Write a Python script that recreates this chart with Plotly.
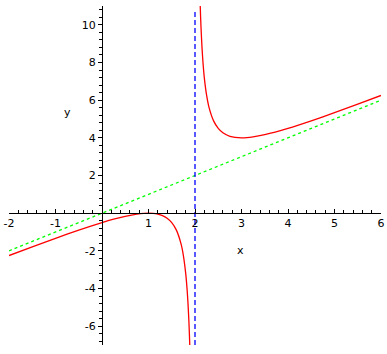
import plotly.graph_objects as go

# Left branch of red curve
left_x = [-2, -1.5, -1, -0.5, 0, 0.25, 0.5, 0.75, 0.9, 1, 1.1, 1.2, 1.3, 1.4, 1.5, 1.6, 1.7, 1.75, 1.8, 1.83, 1.85, 1.87, 1.885, 1.89]
left_y = [-2.25, -1.786, -1.333, -0.9, -0.5, -0.321, -0.167, -0.05, -0.009, 0, -0.011, -0.05, -0.129, -0.267, -0.5, -0.9, -1.633, -2.25, -3.2, -4.052, -4.817, -5.822, -6.811, -7.201]
# Right branch of red curve
right_x = [2.1, 2.11, 2.12, 2.13, 2.15, 2.17, 2.2, 2.25, 2.3, 2.4, 2.5, 2.6, 2.75, 3, 3.25, 3.5, 4, 4.5, 5, 5.5, 6]
right_y = [12.1, 11.2, 10.453, 9.822, 8.817, 8.052, 7.2, 6.25, 5.633, 4.9, 4.5, 4.267, 4.083, 4.0, 4.05, 4.167, 4.5, 4.9, 5.333, 5.786, 6.25]
# Slant asymptote (green) and vertical asymptote (blue)
asym_x = [-2, 6]
asym_y = [-2, 6]
vert_x = [2, 2]
vert_y = [-7, 10.8]

x_ticks = [-2, -1, 1, 2, 3, 4, 5, 6]
y_ticks = [-6, -4, -2, 2, 4, 6, 8, 10]
x_range = [-2, 6]
y_range = [-7, 11]

font = dict(family="DejaVu Sans, Arial, sans-serif", size=11, color="black")

fig = go.Figure()
fig.add_trace(go.Scatter(x=asym_x, y=asym_y, mode="lines",
                         line=dict(color="#00ff00", width=1.3, dash="3px,3px")))
fig.add_trace(go.Scatter(x=vert_x, y=vert_y, mode="lines",
                         line=dict(color="#0000ff", width=1.3, dash="5px,3px")))
fig.add_trace(go.Scatter(x=left_x, y=left_y, mode="lines",
                         line=dict(color="#ff0000", width=1.3, shape="spline", smoothing=0.6)))
fig.add_trace(go.Scatter(x=right_x, y=right_y, mode="lines",
                         line=dict(color="#ff0000", width=1.3, shape="spline", smoothing=0.6)))

x0_frac = (0 - y_range[0]) / (y_range[1] - y_range[0])
y0_frac = (0 - x_range[0]) / (x_range[1] - x_range[0])

def lab(v):
    return ("-" + str(-v)) if v < 0 else str(v)

fig.update_layout(
    width=387, height=354,
    margin=dict(l=9, r=6, t=6, b=9, autoexpand=False),
    plot_bgcolor="white", paper_bgcolor="white",
    showlegend=False,
    font=font,
    xaxis=dict(range=x_range, anchor="free", position=x0_frac, side="bottom", automargin=False,
               showgrid=False, zeroline=False, showline=True, linecolor="black", linewidth=1,
               tickmode="array", tickvals=x_ticks, ticktext=[lab(v) for v in x_ticks],
               ticks="inside", ticklen=4, tickcolor="black", tickwidth=1,
               minor=dict(tickmode="linear", tick0=0, dtick=0.2, ticks="inside", ticklen=3,
                          tickcolor="black", tickwidth=1, showgrid=False),
               tickfont=font, fixedrange=True),
    yaxis=dict(range=y_range, anchor="free", position=y0_frac, side="left", automargin=False,
               showgrid=False, zeroline=False, showline=True, linecolor="black", linewidth=1,
               tickmode="array", tickvals=y_ticks, ticktext=[lab(v) for v in y_ticks],
               ticks="outside", ticklen=4, tickcolor="black", tickwidth=1,
               minor=dict(tickmode="linear", tick0=0, dtick=0.4, ticks="outside", ticklen=3,
                          tickcolor="black", tickwidth=1, showgrid=False),
               tickfont=font, fixedrange=True),
    annotations=[
        dict(x=2.98, y=-1.99, xref="x", yref="y", text="x", showarrow=False, font=font),
        dict(x=-0.74, y=5.33, xref="x", yref="y", text="y", showarrow=False, font=font),
    ],
)

fig.write_html("out.html")
